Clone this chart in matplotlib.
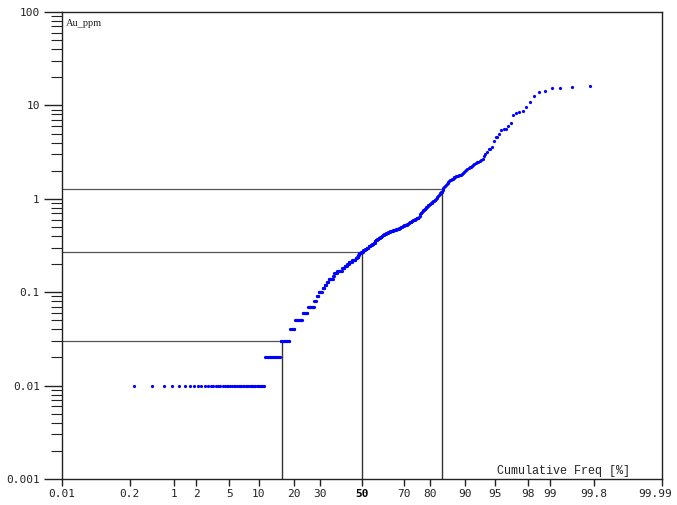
import math
import numpy as np
import matplotlib
matplotlib.use("Agg")
import matplotlib.pyplot as plt
from matplotlib.ticker import FixedLocator, FixedFormatter, NullLocator, LogLocator, NullFormatter
from matplotlib.transforms import ScaledTranslation

# ---- data (sorted sample values, Au ppm) ----
low_values = [0.01, 0.02, 0.03, 0.04, 0.05, 0.06, 0.07, 0.08, 0.09, 0.10,
              0.11, 0.12, 0.13, 0.14, 0.15, 0.16, 0.17, 0.18, 0.19, 0.20,
              0.21, 0.22, 0.23, 0.24, 0.25, 0.26, 0.27, 0.28, 0.29, 0.30,
              0.31, 0.32, 0.33, 0.34, 0.35, 0.36, 0.37, 0.38, 0.39, 0.40,
              0.41, 0.42, 0.43, 0.44, 0.45, 0.46, 0.47, 0.48, 0.49, 0.50,
              0.51, 0.52, 0.53, 0.54, 0.55, 0.56, 0.57, 0.58, 0.59, 0.60,
              0.61, 0.62, 0.63, 0.64]
low_counts = [48, 18, 13, 7, 12, 9, 11, 4, 4, 7,
              4, 4, 4, 9, 2, 6, 10, 5, 5, 4,
              7, 7, 3, 3, 2, 4, 4, 4, 4, 4,
              4, 3, 3, 3, 2, 3, 3, 3, 3, 2,
              3, 4, 4, 4, 6, 6, 3, 3, 3, 3,
              3, 3, 3, 2, 2, 2, 2, 2, 2, 2,
              2, 2, 2, 1]
mid_values = [0.66, 0.68, 0.70, 0.71, 0.72, 0.74, 0.75, 0.76, 0.77, 0.78, 0.79,
              0.81, 0.82, 0.84, 0.85, 0.86, 0.88, 0.89, 0.90, 0.91, 0.92, 0.94, 0.95, 0.96, 0.97,
              1.00, 1.02, 1.05, 1.07, 1.10, 1.12, 1.14, 1.17, 1.19,
              1.25, 1.30, 1.34, 1.38, 1.42, 1.45, 1.48, 1.52, 1.55, 1.58, 1.60, 1.62, 1.64, 1.66,
              1.70, 1.72, 1.74, 1.76, 1.77, 1.78, 1.80, 1.82, 1.85, 1.87,
              1.92, 1.98, 2.03, 2.08, 2.12, 2.17, 2.21,
              2.25, 2.30, 2.35, 2.40, 2.45, 2.50, 2.55, 2.60,
              2.70, 2.85]
high_values = [3.0, 3.2, 3.4, 3.4, 3.6, 4.2, 4.6, 4.6, 4.9, 5.45, 5.6, 5.6, 6.0, 6.5,
               7.9, 8.3, 8.5, 8.7, 9.6, 10.9, 12.6, 13.9, 14.3, 15.4, 15.4, 15.7, 16.1]

# reference percentiles and their values
ref_pcts = [16, 50, 84]
ref_vals = [0.03, 0.27, 1.27]

x_ticks = [0.01, 0.2, 1, 2, 5, 10, 20, 30, 50, 70, 80, 90, 95, 98, 99, 99.8, 99.99]
x_tick_labels = ["0.01", "0.2", "1", "2", "5", "10", "20", "30", "50", "70", "80",
                 "90", "95", "98", "99", "99.8", "99.99"]
y_ticks = [0.001, 0.01, 0.1, 1, 10, 100]
y_tick_labels = ["0.001", "0.01", "0.1", "1", "10", "100"]


# ---- normal probability scale ----
_a = [-3.969683028665376e+01, 2.209460984245205e+02, -2.759285104469687e+02,
      1.383577518672690e+02, -3.066479806614716e+01, 2.506628277459239e+00]
_b = [-5.447609879822406e+01, 1.615858368580409e+02, -1.556989798598866e+02,
      6.680131188771972e+01, -1.328068155288572e+01]
_c = [-7.784894002430293e-03, -3.223964580411365e-01, -2.400758277161838e+00,
      -2.549732539343734e+00, 4.374664141464968e+00, 2.938163982698783e+00]
_d = [7.784695709041462e-03, 3.224671290700398e-01, 2.445134137142996e+00,
      3.754408661907416e+00]


def norm_ppf(q):
    q = np.clip(np.asarray(q, dtype=float), 1e-12, 1 - 1e-12)
    out = np.empty_like(q)
    plow = 0.02425
    phigh = 1 - plow
    lo = q < plow
    hi = q > phigh
    mid = ~(lo | hi)
    if np.any(lo):
        s = np.sqrt(-2 * np.log(q[lo]))
        out[lo] = (((((_c[0]*s+_c[1])*s+_c[2])*s+_c[3])*s+_c[4])*s+_c[5]) / \
                  ((((_d[0]*s+_d[1])*s+_d[2])*s+_d[3])*s+1)
    if np.any(hi):
        s = np.sqrt(-2 * np.log(1 - q[hi]))
        out[hi] = -(((((_c[0]*s+_c[1])*s+_c[2])*s+_c[3])*s+_c[4])*s+_c[5]) / \
                   ((((_d[0]*s+_d[1])*s+_d[2])*s+_d[3])*s+1)
    if np.any(mid):
        r = q[mid] - 0.5
        t = r * r
        out[mid] = (((((_a[0]*t+_a[1])*t+_a[2])*t+_a[3])*t+_a[4])*t+_a[5])*r / \
                   (((((_b[0]*t+_b[1])*t+_b[2])*t+_b[3])*t+_b[4])*t+1)
    return out


_erf = np.vectorize(math.erf)


def fwd(p):
    return norm_ppf(np.asarray(p, dtype=float) / 100.0)


def inv(z):
    z = np.asarray(z, dtype=float)
    return 100.0 * 0.5 * (1 + _erf(z / math.sqrt(2)))


# ---- sample & plotting positions ----
values = np.concatenate([np.repeat(low_values, low_counts), mid_values, high_values])
values = np.sort(values)
n = len(values)
ranks = np.arange(1, n + 1)
pct = 100.0 * ranks / (n + 1)

fig = plt.figure(figsize=(6.77, 5.05), dpi=100)
ax = fig.add_axes([62/677, 1 - 479/505, 600/677, 467/505])
ax.set_xscale("function", functions=(fwd, inv))
ax.set_yscale("log")
ax.set_xlim(0.01, 99.99)
ax.set_ylim(0.001, 100)

ax.plot(pct, values, linestyle="none", marker="o", markersize=2.3,
        markeredgewidth=0, color="#0000ff", zorder=3)

for p, v in zip(ref_pcts, ref_vals):
    ax.plot([0.01, p], [v, v], color="#555555", lw=0.9, zorder=2)
    ax.plot([p, p], [0.001, v], color="#333333", lw=1.0, zorder=2)

tick_font = "DejaVu Sans Mono"
ax.xaxis.set_major_locator(FixedLocator(x_ticks))
ax.xaxis.set_major_formatter(FixedFormatter(x_tick_labels))
ax.xaxis.set_minor_locator(NullLocator())
ax.yaxis.set_major_locator(FixedLocator(y_ticks))
ax.yaxis.set_major_formatter(FixedFormatter(y_tick_labels))
ax.yaxis.set_minor_locator(LogLocator(base=10, subs=np.arange(2, 10)))
ax.yaxis.set_minor_formatter(NullFormatter())

ax.tick_params(axis="x", which="major", direction="out", length=5, width=1,
               pad=2, labelsize=8, colors="#222222")
ax.tick_params(axis="y", which="major", direction="out", length=13, width=1,
               pad=3, labelsize=8, colors="#222222")
ax.tick_params(axis="y", which="minor", direction="out", length=8, width=0.8,
               colors="#222222")

fig.canvas.draw()
for lab in ax.get_xticklabels() + ax.get_yticklabels():
    lab.set_fontfamily(tick_font)
    lab.set_color("#222222")
for lab in ax.get_xticklabels():
    if lab.get_text() == "50":
        lab.set_fontweight("bold")
        lab.set_color("black")
    if lab.get_text() == "99.99":
        lab.set_transform(lab.get_transform() +
                          ScaledTranslation(-5/72, 0, fig.dpi_scale_trans))

for s in ax.spines.values():
    s.set_linewidth(1.0)
    s.set_color("#222222")

ax.text(0.007, 0.985, "Au_ppm", transform=ax.transAxes, ha="left", va="top",
        fontsize=7.5, family="Liberation Serif", color="#222222")
ax.text(0.947, 0.005, "Cumulative Freq [%]", transform=ax.transAxes, ha="right",
        va="bottom", fontsize=8.5, family="Liberation Mono", color="#222222")

fig.savefig("out.png", dpi=100)
